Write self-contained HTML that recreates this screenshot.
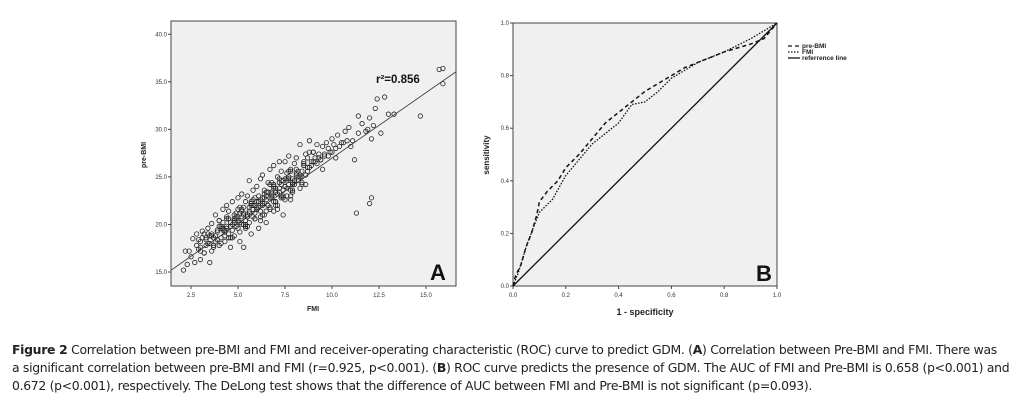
<!DOCTYPE html>
<html><head><meta charset="utf-8"><style>
body{margin:0;background:#fff;width:1019px;height:417px;overflow:hidden;font-family:"Liberation Sans",sans-serif}
svg{position:absolute;left:0;top:0}
.cap{position:absolute;left:12px;font-size:12.4px;white-space:nowrap;color:#222;font-family:"DejaVu Sans","Liberation Sans",sans-serif;letter-spacing:-0.3px}
</style></head><body>
<svg width="1019" height="417">
<g id="pa"></g>
<g id="pb"></g>
</svg>
<div class="cap" style="top:342px"><b>Figure 2</b> Correlation between pre-BMI and FMI and receiver-operating characteristic (ROC) curve to predict GDM. (<b>A</b>) Correlation between Pre-BMI and FMI. There was</div>
<div class="cap" style="top:360px">a significant correlation between pre-BMI and FMI (r=0.925, p&lt;0.001). (<b>B</b>) ROC curve predicts the presence of GDM. The AUC of FMI and Pre-BMI is 0.658 (p&lt;0.001) and</div>
<div class="cap" style="top:378px">0.672 (p&lt;0.001), respectively. The DeLong test shows that the difference of AUC between FMI and Pre-BMI is not significant (p=0.093).</div>
<script>
const NS="http://www.w3.org/2000/svg";
const xTicksA=[2.5,5.0,7.5,10.0,12.5,15.0];
const yTicksA=[15.0,20.0,25.0,30.0,35.0,40.0];
const fitLine=[1.3,15.0,16.7,36.2];
const fmi=[2.1,2.2,2.3,2.4,2.6,2.7,2.8,2.9,3.0,3.0,3.1,3.2,3.3,3.4,3.5,3.5,3.6,3.7,3.8,3.8,3.9,4.0,4.0,4.1,4.2,4.2,4.3,4.4,4.4,4.5,4.5,4.6,4.7,4.7,4.8,4.8,4.9,5.0,5.0,5.1,5.1,5.2,5.2,5.3,5.3,5.4,5.4,5.5,5.5,5.6,5.6,5.7,5.7,5.8,5.8,5.9,5.9,6.0,6.0,6.1,6.1,6.2,6.2,6.3,6.3,6.4,6.4,6.5,6.5,6.6,6.6,6.7,6.7,6.8,6.8,6.9,6.9,7.0,7.0,7.1,7.1,7.2,7.2,7.3,7.3,7.4,7.4,7.5,7.5,7.6,7.6,7.7,7.7,7.8,7.8,7.9,7.9,8.0,8.0,8.1,8.2,8.3,8.4,8.5,8.6,8.7,8.8,8.9,9.0,9.1,9.2,9.3,9.4,9.5,9.6,9.7,9.8,9.9,10.0,10.1,10.3,10.5,10.7,10.9,11.1,11.2,11.4,11.6,11.8,12.0,12.1,12.3,12.4,12.6,12.8,13.0,13.3,14.7,15.7,15.9,15.9,2.5,3.0,3.3,3.6,3.9,4.2,4.5,4.8,5.1,5.4,5.7,6.0,6.3,6.6,6.9,7.2,7.5,7.8,8.1,8.4,8.7,4.0,4.6,5.2,5.8,6.4,7.0,7.6,3.2,3.7,4.3,4.9,5.5,6.1,6.7,7.3,7.9,8.5,9.0,5.0,5.6,6.2,6.8,4.4,5.3,6.5,7.4,8.3,3.5,4.1,5.9,6.9,7.7,8.8,9.5,10.2,11.0,11.3,12.0,12.1,
2.8,3.1,3.4,3.6,3.9,4.1,4.3,4.6,4.8,5.0,5.2,5.4,5.6,5.8,6.0,6.2,6.4,6.6,6.8,7.0,7.2,7.4,7.6,7.8,8.0,8.2,8.4,8.6,3.0,3.3,3.5,3.8,4.0,4.3,4.5,4.7,4.9,5.1,5.3,5.5,5.7,5.9,6.1,6.3,6.5,6.7,6.9,7.1,7.3,7.5,7.7,7.9,8.1,8.3,8.5,8.7,8.9,9.1,9.3,2.9,3.2,3.7,4.2,4.6,5.0,5.4,5.8,6.2,6.6,7.0,7.4,7.8,8.2,8.6,9.0,9.4,9.8,10.2,10.6,3.4,3.9,4.4,4.9,5.3,5.7,6.1,6.5,6.9,7.3,7.7,8.1,8.5,4.1,4.7,5.1,5.5,5.9,6.3,6.7,7.1,7.5,7.9,8.3,3.6,4.4,4.8,5.2,5.6,6.0,6.4,6.8,7.2,7.6,8.0,8.4,8.8,9.2,9.6,10.0,10.4,10.8,11.4,11.9,12.2];
const bmi=[15.2,17.2,15.8,17.2,18.5,16.0,19.0,17.4,16.3,18.2,19.3,17.0,18.4,19.6,16.0,18.8,20.1,17.6,18.8,21.0,19.2,17.8,20.4,18.6,21.6,19.4,18.2,20.6,22.0,19.0,21.4,17.6,20.0,22.4,18.8,21.0,19.8,22.8,20.4,18.2,21.8,20.0,23.2,21.2,17.6,22.4,19.6,23.0,21.0,20.2,24.6,22.0,19.0,21.6,23.6,20.6,22.8,21.6,24.0,19.6,22.4,20.8,24.8,22.2,25.2,21.0,23.6,22.6,20.2,24.4,22.0,21.6,25.8,23.2,24.4,21.4,26.2,23.8,22.4,25.0,21.6,24.4,26.6,22.8,25.6,23.6,21.0,24.8,26.6,23.0,25.4,24.2,27.2,22.6,25.8,24.8,23.6,26.4,24.6,27.0,25.0,28.4,24.4,26.6,27.4,25.6,28.8,26.2,27.6,26.6,28.4,27.0,26.8,28.2,27.4,28.6,28.0,27.6,29.0,28.4,29.4,28.6,29.8,30.2,28.8,26.8,31.4,30.6,29.8,31.2,29.0,32.2,33.2,29.6,33.4,31.6,31.6,31.4,36.3,36.4,34.8,16.6,17.6,18.6,17.2,18.4,19.6,18.6,20.4,21.2,19.8,22.2,21.6,22.8,23.4,22.4,24.8,24.0,25.6,25.2,24.2,27.0,20.4,20.2,21.6,22.0,23.2,23.4,24.6,17.0,18.6,19.4,20.6,20.8,21.8,24.2,23.0,24.2,26.2,27.6,20.8,21.4,22.6,23.0,19.6,20.0,21.4,22.8,25.0,18.0,19.8,22.0,24.2,25.6,27.6,25.8,27.0,28.2,21.2,22.2,22.8,
17.8,18.6,18.0,19.0,18.4,19.6,19.2,19.8,20.2,19.6,20.8,20.4,21.2,20.8,21.8,21.4,22.2,22.0,22.8,22.4,23.4,23.0,23.8,23.6,24.2,24.6,25.0,25.2,17.2,17.8,18.8,18.2,19.8,18.8,20.6,19.4,21.2,20.2,21.8,20.8,22.4,21.2,23.0,22.0,23.4,22.8,24.0,23.2,24.6,24.0,25.0,24.4,25.8,25.2,26.2,26.0,26.6,27.0,27.4,18.4,19.0,17.8,20.2,18.6,21.6,20.0,22.6,20.4,23.4,22.0,24.6,23.0,25.6,24.2,26.6,26.8,27.2,28.0,28.6,19.0,19.4,19.8,20.8,21.0,22.2,22.4,23.0,23.8,24.2,24.8,25.4,26.4,18.0,18.6,19.2,19.8,20.6,21.0,21.8,22.0,22.6,23.4,23.8,18.8,20.8,20.6,21.4,21.8,22.4,22.8,23.4,23.8,24.8,24.6,25.6,26.0,26.4,27.2,27.6,28.2,28.8,29.6,30.0,30.4];
const rocX1=[0,0.01,0.02,0.03,0.05,0.07,0.09,0.10,0.13,0.17,0.20,0.25,0.30,0.35,0.40,0.45,0.50,0.55,0.60,0.65,0.70,0.80,0.90,0.95,1];
const rocY1=[0,0.04,0.06,0.08,0.15,0.20,0.27,0.32,0.36,0.40,0.45,0.50,0.56,0.62,0.66,0.70,0.74,0.77,0.80,0.83,0.85,0.89,0.92,0.94,1];
const rocX2=[0,0.02,0.05,0.08,0.10,0.15,0.20,0.25,0.30,0.35,0.40,0.45,0.50,0.55,0.60,0.65,0.70,0.80,0.90,1];
const rocY2=[0,0.05,0.15,0.23,0.28,0.33,0.42,0.48,0.54,0.58,0.62,0.69,0.70,0.74,0.79,0.82,0.85,0.89,0.94,1];
const xTicksB=[0.0,0.2,0.4,0.6,0.8,1.0];
const yTicksB=[0.0,0.2,0.4,0.6,0.8,1.0];

function mk(p,tag,a,txt){const e=document.createElementNS(NS,tag);for(const k in a)e.setAttribute(k,a[k]);if(txt!==undefined)e.textContent=txt;p.appendChild(e);return e;}
const A={l:171,r:456,t:21,b:286};
const ax=v=>191+(v-2.5)*18.8, ay=v=>272-(v-15)*9.51;
const pa=document.getElementById('pa');
let e=mk(pa,'rect',{x:A.l,y:A.t,width:A.r-A.l,height:A.b-A.t,fill:'#f0f0f0',stroke:'#444','stroke-width':1});


const cp=mk(pa,'clipPath',{id:'ca'});mk(cp,'rect',{x:A.l,y:A.t,width:A.r-A.l,height:A.b-A.t});
xTicksA.forEach(v=>{mk(pa,'line',{x1:ax(v),x2:ax(v),y1:A.b,y2:A.b+3,stroke:'#444'});
 e=mk(pa,'text',{x:ax(v),y:A.b+11,'font-size':6,'text-anchor':'middle',fill:'#333'},v.toFixed(1));
 
 });
yTicksA.forEach(v=>{mk(pa,'line',{x1:A.l-3,x2:A.l,y1:ay(v),y2:ay(v),stroke:'#444'});
 e=mk(pa,'text',{x:A.l-4,y:ay(v)+2,'font-size':6,'text-anchor':'end',fill:'#333'},v.toFixed(1));
 
 });
const gp=mk(pa,'g',{'clip-path':'url(#ca)'});
fmi.forEach((x,i)=>{e=mk(gp,'circle',{cx:ax(x),cy:ay(bmi[i]),r:2.2,fill:'none',stroke:'#222','stroke-width':0.8});
 
 });
e=mk(gp,'line',{x1:ax(fitLine[0]),y1:ay(fitLine[1]),x2:ax(fitLine[2]),y2:ay(fitLine[3]),stroke:'#333','stroke-width':0.8});


e=mk(pa,'text',{x:376,y:83,'font-size':11.5,'font-weight':'bold',fill:'#111'},'r²=0.856');


e=mk(pa,'text',{x:430,y:280,'font-size':22,'font-weight':'bold',fill:'#111'},'A');


e=mk(pa,'text',{x:313,y:311,'font-size':7,'font-weight':'bold','text-anchor':'middle',fill:'#222'},'FMI');


e=mk(pa,'text',{x:0,y:0,'font-size':7,'font-weight':'bold','text-anchor':'middle',fill:'#222',transform:'translate(146,155) rotate(-90)'},'pre-BMI');


const B={l:513,r:777,t:23,b:286};
const bx=v=>B.l+v*(B.r-B.l), by=v=>B.b-v*(B.b-B.t);
const pb=document.getElementById('pb');
e=mk(pb,'rect',{x:B.l,y:B.t,width:B.r-B.l,height:B.b-B.t,fill:'#f0f0f0',stroke:'#444','stroke-width':1});


xTicksB.forEach(v=>{mk(pb,'line',{x1:bx(v),x2:bx(v),y1:B.b,y2:B.b+3,stroke:'#444'});
 e=mk(pb,'text',{x:bx(v),y:B.b+11,'font-size':6,'text-anchor':'middle',fill:'#333'},v.toFixed(1));
 
 });
yTicksB.forEach(v=>{mk(pb,'line',{x1:B.l-3,x2:B.l,y1:by(v),y2:by(v),stroke:'#444'});
 e=mk(pb,'text',{x:B.l-4,y:by(v)+2,'font-size':6,'text-anchor':'end',fill:'#333'},v.toFixed(1));
 
 });
e=mk(pb,'line',{x1:bx(0),y1:by(0),x2:bx(1),y2:by(1),stroke:'#111','stroke-width':1.3});


e=mk(pb,'polyline',{points:rocX1.map((x,i)=>bx(x)+','+by(rocY1[i])).join(' '),fill:'none',stroke:'#111','stroke-width':1.5,'stroke-dasharray':'4 3'});


e=mk(pb,'polyline',{points:rocX2.map((x,i)=>bx(x)+','+by(rocY2[i])).join(' '),fill:'none',stroke:'#111','stroke-width':1.3,'stroke-dasharray':'1.5 1.5'});


e=mk(pb,'text',{x:756,y:281,'font-size':22,'font-weight':'bold',fill:'#111'},'B');


e=mk(pb,'text',{x:645,y:315,'font-size':9,'font-weight':'bold','text-anchor':'middle',fill:'#222'},'1 - specificity');


e=mk(pb,'text',{x:0,y:0,'font-size':8,'font-weight':'bold','text-anchor':'middle',fill:'#222',transform:'translate(489,155) rotate(-90)'},'sensitivity');


const leg=[['pre-BMI','4 3'],['FMI','1.5 1.5'],['referrence line','']];
leg.forEach((d,i)=>{const y=46+i*6;
 mk(pb,'line',{x1:788,x2:800,y1:y,y2:y,stroke:'#111','stroke-width':1.3,'stroke-dasharray':d[1]});
 e=mk(pb,'text',{x:802,y:y+2,'font-size':6.5,'font-weight':'bold',fill:'#222'},d[0]);
 
 });
</script>
</body></html>
